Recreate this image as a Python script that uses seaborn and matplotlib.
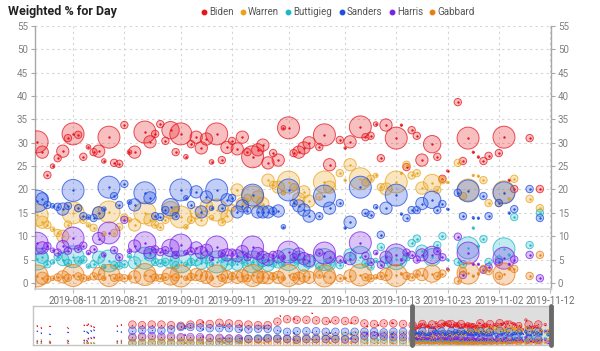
import pandas as pd
import seaborn as sns
import matplotlib.pyplot as plt
import matplotlib.colors as mcolors
from matplotlib.lines import Line2D

# === DATA: polls shown in the main window ===
candidates = ["Biden", "Warren", "Buttigieg", "Sanders", "Harris", "Gabbard"]
colors = {"Biden": "#e8141c", "Warren": "#eaa41c", "Buttigieg": "#1ab8c8",
          "Sanders": "#1f4de0", "Harris": "#7b22e6", "Gabbard": "#e87d12"}

poll_dates = ["2019-08-04", "2019-08-05", "2019-08-06", "2019-08-07", "2019-08-08", "2019-08-09",
              "2019-08-10", "2019-08-11", "2019-08-12", "2019-08-13", "2019-08-14", "2019-08-15",
              "2019-08-16", "2019-08-17", "2019-08-18", "2019-08-19", "2019-08-20", "2019-08-21",
              "2019-08-22", "2019-08-23", "2019-08-25", "2019-08-26", "2019-08-27", "2019-08-28",
              "2019-08-29", "2019-08-30", "2019-08-31", "2019-09-01", "2019-09-02", "2019-09-03",
              "2019-09-04", "2019-09-05", "2019-09-06", "2019-09-07", "2019-09-08", "2019-09-09",
              "2019-09-10", "2019-09-11", "2019-09-12", "2019-09-13", "2019-09-14", "2019-09-15",
              "2019-09-16", "2019-09-17", "2019-09-18", "2019-09-19", "2019-09-20", "2019-09-21",
              "2019-09-22", "2019-09-23", "2019-09-24", "2019-09-25", "2019-09-26", "2019-09-28",
              "2019-09-29", "2019-09-30", "2019-10-02", "2019-10-03", "2019-10-04", "2019-10-06",
              "2019-10-07", "2019-10-08", "2019-10-09", "2019-10-10", "2019-10-11", "2019-10-13",
              "2019-10-14", "2019-10-15", "2019-10-16", "2019-10-17", "2019-10-18", "2019-10-20",
              "2019-10-21", "2019-10-22", "2019-10-23", "2019-10-25", "2019-10-26", "2019-10-27",
              "2019-10-28", "2019-10-29", "2019-10-30", "2019-10-31", "2019-11-02", "2019-11-03",
              "2019-11-04", "2019-11-05", "2019-11-08", "2019-11-10"]
poll_n = [16000, 5000, 1800, 700, 1800, 5000, 1800, 16000, 1800, 1800, 700, 1800,
          5000, 700, 16000, 1800, 1800, 1800, 700, 5000, 16000, 5000, 1800, 1800,
          1800, 10000, 1800, 16000, 700, 1800, 5000, 5000, 5000, 700, 16000, 1800,
          5000, 1800, 5000, 5000, 1800, 16000, 5000, 5000, 5000, 1800, 5000, 700,
          16000, 1800, 5000, 5000, 5000, 1800, 16000, 5000, 1800, 150, 5000, 16000,
          1800, 1800, 700, 1800, 5000, 16000, 150, 1800, 1800, 1800, 5000, 10000,
          1800, 1800, 150, 1800, 1800, 16000, 150, 150, 1800, 1800, 1800, 16000,
          150, 1800, 1800, 1800]
biden = [30.2, 28.0, 23.1, 25.0, 26.7, 28.2, 31.0, 31.9, 31.7, 27.0, 29.1, 28.0,
         28.2, 26.1, 31.2, 25.7, 25.5, 33.8, 28.0, 28.0, 32.3, 30.2, 31.9, 34.0,
         30.4, 32.7, 28.0, 31.9, 27.0, 29.7, 31.2, 28.9, 30.8, 25.9, 31.9, 26.3,
         29.0, 30.4, 28.7, 31.2, 28.0, 27.0, 28.5, 29.5, 25.7, 27.8, 26.3, 33.2,
         33.2, 27.8, 28.0, 28.9, 30.0, 29.1, 31.7, 25.3, 30.6, 28.9, 30.2, 33.4,
         31.2, 31.5, 34.0, 26.7, 33.8, 31.0, 33.8, 24.8, 32.7, 31.5, 26.3, 29.7,
         27.0, 22.3, 24.0, 38.7, 26.1, 31.0, 28.0, 27.0, 26.1, 27.2, 27.8, 31.2,
         22.0, 20.1, 31.0, 20.1]
warren = [14.5, 13.0, 12.4, 11.5, 10.7, 10.0, 12.5, 15.0, 16.0, 13.5, 12.4, 11.8,
          15.0, 10.5, 15.2, 10.7, 12.0, 14.0, 13.5, 12.4, 15.0, 13.5, 12.5, 12.0,
          13.5, 15.6, 15.6, 14.1, 12.0, 13.5, 15.0, 13.5, 16.5, 14.0, 15.6, 13.0,
          14.3, 16.0, 19.9, 17.0, 18.2, 18.4, 18.4, 17.0, 22.0, 21.0, 20.5, 19.3,
          21.6, 20.5, 18.0, 19.5, 17.5, 18.5, 21.6, 20.5, 23.5, 22.0, 25.3, 22.3,
          21.5, 22.3, 23.0, 20.5, 20.1, 21.6, 23.5, 25.3, 23.0, 23.5, 20.3, 21.4,
          19.9, 22.0, 21.5, 25.7, 18.6, 19.9, 23.0, 22.9, 22.0, 17.1, 17.1, 19.5,
          18.0, 22.3, 18.0, 16.0]
buttigieg = [5.1, 5.5, 4.0, 4.5, 5.6, 5.0, 4.3, 5.6, 4.8, 5.0, 3.6, 4.0,
             5.5, 3.5, 4.7, 3.8, 3.7, 4.0, 5.8, 4.3, 5.3, 6.0, 4.5, 4.2,
             4.5, 5.0, 3.8, 4.5, 4.0, 4.5, 5.0, 4.2, 5.5, 4.0, 4.5, 5.2,
             4.0, 4.5, 4.0, 5.5, 4.3, 4.5, 4.0, 4.8, 3.8, 4.2, 4.5, 4.0,
             5.0, 4.5, 5.5, 3.8, 4.5, 3.5, 5.0, 4.0, 3.8, 4.5, 6.0, 5.5,
             4.2, 3.5, 4.8, 7.7, 4.5, 5.2, 4.0, 5.5, 8.5, 9.5, 6.8, 5.5,
             8.1, 10.0, 5.0, 4.5, 4.0, 7.5, 11.8, 7.9, 9.4, 4.5, 5.0, 7.3,
             6.0, 14.1, 8.1, 15.0]
sanders = [17.5, 18.0, 16.7, 16.5, 16.3, 15.8, 16.5, 19.8, 16.0, 14.3, 14.1, 13.9,
           15.0, 15.8, 20.5, 18.6, 16.7, 21.2, 17.3, 16.7, 19.3, 18.2, 14.3, 14.1,
           15.6, 16.2, 14.3, 19.9, 18.2, 16.7, 19.5, 15.2, 18.4, 16.0, 19.9, 16.0,
           17.8, 18.2, 15.2, 16.5, 15.5, 18.8, 15.2, 15.2, 15.2, 15.4, 15.4, 12.0,
           19.9, 17.1, 16.5, 15.6, 14.3, 14.3, 18.6, 16.0, 17.1, 11.8, 13.0, 20.5,
           15.0, 14.6, 16.3, 10.3, 16.0, 18.8, 14.8, 13.9, 15.6, 15.6, 17.0, 17.8,
           15.6, 16.9, 15.8, 19.3, 14.3, 19.7, 14.0, 13.9, 18.6, 14.3, 17.1, 19.3,
           15.0, 15.8, 20.1, 13.9]
harris = [8.5, 7.5, 7.9, 7.0, 6.5, 7.8, 6.9, 9.6, 7.3, 8.0, 6.5, 7.2,
          9.5, 6.0, 10.7, 7.0, 5.5, 13.5, 6.8, 7.9, 8.6, 6.5, 7.2, 6.6,
          7.0, 7.5, 6.0, 8.1, 6.5, 6.8, 7.5, 6.5, 7.0, 5.2, 7.7, 6.3,
          6.0, 6.5, 5.8, 6.7, 5.5, 7.7, 6.3, 5.5, 5.0, 6.0, 5.6, 5.5,
          6.6, 5.5, 6.2, 5.2, 4.8, 6.5, 6.4, 5.5, 5.0, 4.5, 5.2, 8.6,
          5.8, 4.5, 6.5, 3.9, 5.5, 6.0, 5.0, 6.5, 6.0, 5.0, 6.0, 6.0,
          6.8, 5.5, 3.0, 9.9, 1.7, 6.4, 4.0, 4.0, 2.8, 3.4, 4.5, 5.3,
          4.0, 5.0, 6.0, 1.0]
gabbard = [1.5, 1.0, 0.8, 1.0, 1.2, 1.3, 1.1, 1.6, 1.4, 1.0, 1.0, 1.4,
           2.0, 1.0, 1.6, 1.1, 1.2, 1.0, 1.2, 1.3, 1.8, 1.5, 1.2, 1.0,
           1.3, 1.4, 1.2, 1.5, 1.0, 1.3, 1.8, 1.6, 1.2, 1.0, 1.5, 1.1,
           1.3, 1.4, 1.2, 1.5, 1.0, 1.6, 1.3, 1.2, 1.1, 1.4, 1.2, 1.0,
           1.6, 1.3, 1.0, 1.5, 1.2, 1.8, 1.5, 1.2, 1.0, 1.0, 1.5, 1.7,
           1.2, 1.0, 1.3, 1.5, 1.8, 1.6, 2.0, 1.5, 1.2, 2.0, 1.8, 2.0,
           1.5, 2.0, 2.8, 0.5, 2.5, 2.1, 1.5, 2.0, 3.0, 2.5, 1.5, 1.9,
           3.0, 3.0, 1.5, 6.0]

# === DATA: earlier polls, only visible in the navigator ===
early_dates = ["2018-11-05", "2018-11-08", "2018-11-14", "2018-11-27", "2018-12-09", "2018-12-11",
               "2018-12-12", "2018-12-14", "2018-12-16", "2019-01-02", "2019-01-05",
               "2019-01-13", "2019-01-20", "2019-01-27", "2019-02-03", "2019-02-10", "2019-02-17",
               "2019-02-20", "2019-02-24", "2019-03-03", "2019-03-05", "2019-03-10", "2019-03-17",
               "2019-03-20", "2019-03-24", "2019-03-31", "2019-04-02", "2019-04-07", "2019-04-14",
               "2019-04-18", "2019-04-21", "2019-04-28", "2019-04-30", "2019-05-05", "2019-05-10",
               "2019-05-12", "2019-05-19", "2019-05-23", "2019-05-26", "2019-06-02", "2019-06-05",
               "2019-06-09", "2019-06-16", "2019-06-20", "2019-06-23", "2019-06-30", "2019-07-02",
               "2019-07-07", "2019-07-10", "2019-07-14", "2019-07-20", "2019-07-21", "2019-07-28"]
early_n = [150, 150, 150, 150, 150, 150, 150, 150, 150, 150, 150,
           16000, 16000, 16000, 16000, 16000, 16000, 700, 16000, 16000, 700, 16000, 16000,
           700, 16000, 16000, 700, 16000, 16000, 700, 16000, 16000, 150, 16000, 700,
           16000, 16000, 150, 16000, 16000, 700, 16000, 16000, 700, 16000, 16000, 700,
           16000, 700, 16000, 700, 16000, 16000]
early_biden = [29, 26, 28, 26, 30, 30, 32, 29, 27, 29, 31,
               31, 30, 31, 31, 30, 29, 29, 31, 33, 35, 32, 34,
               31, 33, 32, 29, 31, 30, 28, 30, 36, 46, 40, 41,
               39, 39, 50, 38, 37, 36, 38, 37, 34, 38, 33, 28,
               32, 30, 33, 34, 33, 32]
early_warren = [5, 6, 4, 5, 4, 5, 7, 9, 8, 4, 5,
                8, 9, 8, 7, 8, 8, 6, 7, 7, 8, 8, 7,
                6, 7, 7, 5, 7, 6, 8, 7, 8, 9, 8, 10,
                9, 10, 8, 10, 11, 12, 11, 12, 14, 13, 14, 15,
                13, 15, 14, 14, 14, 14]
early_buttigieg = [0.5, 0.5, 0.5, 0.5, 0.5, 0.5, 0.5, 0.5, 0.5, 0.5, 0.5,
                   0.5, 0.5, 0.5, 0.5, 0.5, 0.5, 0.5, 0.5, 1, 1, 1, 2,
                   2, 3, 5, 4, 7, 8, 9, 9, 8, 7, 7, 6,
                   6, 7, 5, 7, 7, 8, 7, 7, 7, 7, 6, 5,
                   6, 6, 6, 5, 5, 5]
early_sanders = [20, 17, 15, 18, 20, 19, 17, 21, 22, 20, 19,
                 21, 22, 22, 21, 23, 27, 25, 27, 26, 23, 25, 25,
                 27, 25, 24, 22, 23, 24, 25, 24, 22, 20, 19, 17,
                 20, 20, 18, 20, 19, 17, 19, 19, 16, 19, 19, 17,
                 19, 16, 18, 16, 19, 19]
early_harris = [3, 3, 2, 4, 5, 4, 8, 9, 10, 3, 4,
                10, 11, 12, 11, 11, 10, 14, 10, 10, 11, 9, 9,
                9, 8, 8, 8, 7, 7, 6, 8, 7, 8, 7, 6,
                6, 7, 7, 7, 7, 8, 7, 6, 8, 7, 12, 15,
                13, 13, 11, 11, 10, 10]
early_gabbard = [0.5, 0.5, 0.5, 0.5, 0.5, 0.5, 0.5, 0.5, 0.5, 0.5, 0.5,
                 0.5, 1, 1, 1, 1, 1, 1, 1, 1, 1, 1, 1,
                 1, 1, 1, 1, 1, 1, 1, 1, 1, 1, 1, 1,
                 1, 1, 1, 1, 1, 1, 1, 1, 1, 1, 1, 1,
                 1, 1, 1, 1, 1, 1]

view_start = pd.Timestamp("2019-08-03 14:00")
view_end = pd.Timestamp("2019-11-12 04:00")
nav_start = pd.Timestamp("2018-11-02")
x_ticks = ["2019-08-11", "2019-08-21", "2019-09-01", "2019-09-11", "2019-09-22",
           "2019-10-03", "2019-10-13", "2019-10-23", "2019-11-02", "2019-11-12"]


def long_table(dates, n, columns):
    frames = []
    for cand, vals in zip(candidates, columns):
        frames.append(pd.DataFrame({"date": pd.to_datetime(dates), "n": n,
                                    "value": vals, "candidate": cand}))
    return pd.concat(frames, ignore_index=True)


def draw_polls(ax, df, max_s, dot_s, lw):
    # ring + transparent fill sized by sample, then a small solid centre dot
    for cand in candidates:
        sub = df[df["candidate"] == cand]
        c = mcolors.to_rgb(colors[cand])
        sns.scatterplot(data=sub, x="date", y="value", size="n", sizes=(0, max_s),
                        size_norm=(0, 16000), color=(*c, 0.27), edgecolor=(*c, 0.75),
                        linewidth=lw, legend=False, ax=ax, zorder=3)
        sns.scatterplot(data=sub, x="date", y="value", color=c, s=dot_s, linewidth=0,
                        legend=False, ax=ax, zorder=4)


main_df = long_table(poll_dates, poll_n, [biden, warren, buttigieg, sanders, harris, gabbard])
early_df = long_table(early_dates, early_n, [early_biden, early_warren, early_buttigieg,
                                             early_sanders, early_harris, early_gabbard])
nav_df = pd.concat([early_df, main_df], ignore_index=True)

sns.set_theme(style="white")
plt.rcParams["font.family"] = ["Roboto", "DejaVu Sans"]

fig = plt.figure(figsize=(6, 3.51), dpi=100)
ax = fig.add_axes([35 / 600, 1 - 289 / 351, 516 / 600, 263 / 351])
ax_nav = fig.add_axes([33 / 600, 6 / 351, 518 / 600, 39 / 351])

# === MAIN CHART ===
draw_polls(ax, main_df, max_s=250, dot_s=3, lw=0.7)
ax.set_xlim(view_start, view_end)
ax.set_ylim(-1.3, 55)
ax.set_yticks(range(0, 56, 5))
ax.set_xticks(pd.to_datetime(x_ticks))
ax.set_xticklabels(x_ticks)
ax.set_xlabel("")
ax.set_ylabel("")
ax.grid(True, color="#d4d4d4", linestyle=(0, (2, 3)), linewidth=0.8)
ax.set_axisbelow(True)
for side in ["left", "right"]:
    ax.spines[side].set_color("#a8a8a8")
    ax.spines[side].set_linewidth(1)
ax.spines["top"].set_visible(False)
ax.spines["bottom"].set_color("#d0d0d0")
ax.tick_params(axis="y", left=True, right=True, labelright=True, length=3, width=0.8,
               color="#a8a8a8", labelsize=7, labelcolor="#808080", pad=2)
ax.tick_params(axis="x", bottom=True, length=3, width=0.8, color="#c0c0c0",
               labelsize=7, labelcolor="#707070", pad=2)

# === NAVIGATOR ===
ax_nav.axvspan(view_start, view_end, color="#dedede", zorder=0)
draw_polls(ax_nav, nav_df, max_s=30, dot_s=0.8, lw=0.5)
for edge in [view_start, view_end]:
    ax_nav.axvline(edge, color="#6a6a6a", linewidth=3.5, zorder=6, clip_on=False)
ax_nav.set_xlim(nav_start, view_end)
ax_nav.set_ylim(-3, 62)
ax_nav.set_xticks([])
ax_nav.set_yticks([])
ax_nav.set_xlabel("")
ax_nav.set_ylabel("")
for s in ax_nav.spines.values():
    s.set_color("#c4c4c4")
    s.set_linewidth(1)

# === TITLE & LEGEND ===
fig.text(8 / 600, 1 - 12 / 351, "Weighted % for Day", fontsize=9, fontweight="bold",
         color="#222222", ha="left", va="center")
handles = [Line2D([], [], marker="o", linestyle="", markersize=3.2, color=colors[c])
           for c in candidates]
fig.legend(handles, candidates, loc="center right", bbox_to_anchor=(480 / 600, 1 - 12 / 351),
           ncol=6, frameon=False, fontsize=7, handletextpad=0.05, columnspacing=0.45,
           handlelength=1.0, labelcolor="#555555", borderpad=0)

fig.savefig("out.png", dpi=100)
